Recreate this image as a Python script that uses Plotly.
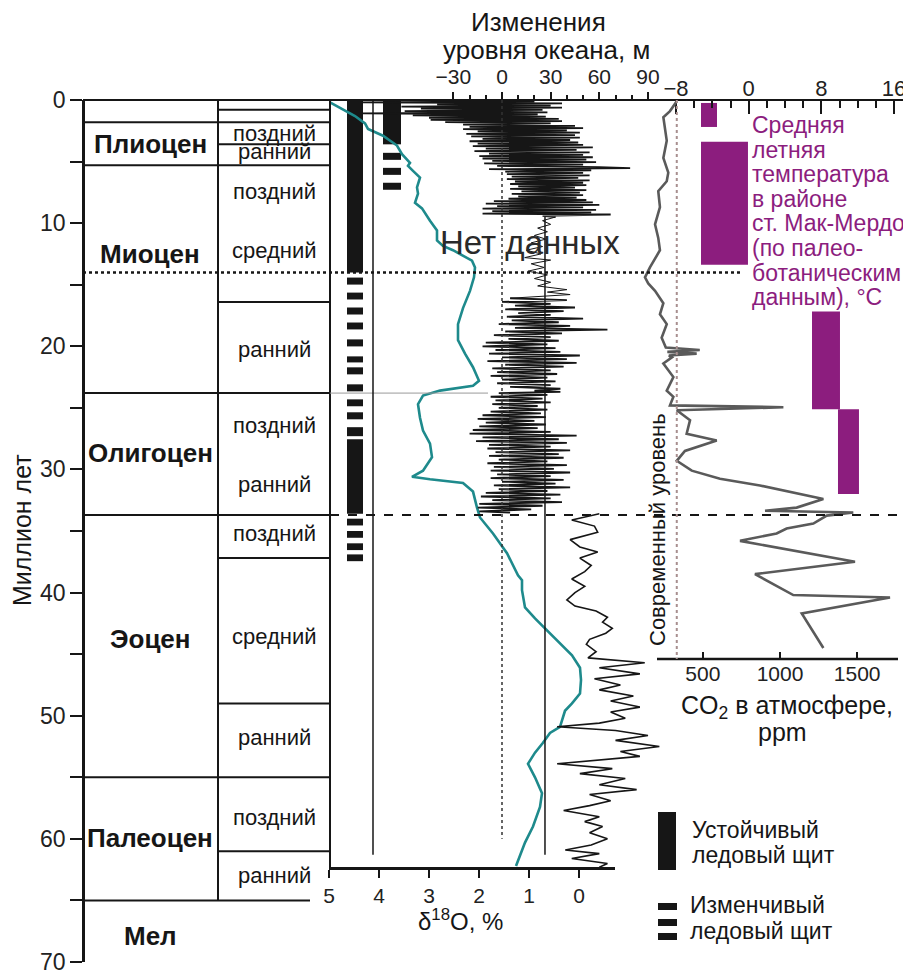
import plotly.graph_objects as go

# The page body has an 8 px margin; the figure is sized to fill the rest of the window.
OFF = 8
W, H = 911 - OFF, 973 - OFF
FONT = "Liberation Sans, Arial, Helvetica, sans-serif"
INK = "#161616"
PURPLE = "#8c1d7e"
TEAL = "#1e8a8c"
GRAY = "#5a5a5a"

# ------------------------------------------------------------------ data
# stratigraphy (Ma)
epoch_names = ["Плиоцен", "Миоцен", "Олигоцен", "Эоцен", "Палеоцен", "Мел"]
epoch_label_age = [3.55, 12.5, 28.7, 43.8, 59.9, 67.9]
epoch_bounds = [1.8, 5.3, 23.8, 33.7, 55.0]
cretaceous_bound = 65.0
sub_names = ["поздний", "ранний", "поздний", "средний", "ранний", "поздний",
             "ранний", "поздний", "средний", "ранний", "поздний", "ранний"]
sub_label_age = [2.7, 4.2, 7.4, 12.2, 20.3, 26.4, 31.2, 35.2, 43.6, 51.8, 58.3, 63.0]
sub_bounds = [0.8, 3.6, 16.4, 37.2, 49.0, 61.0]
mid_miocene_line = 14.0
age_ticks = list(range(0, 71, 10))
age_minor = list(range(5, 70, 10))

# ice sheets (Ma)
stable1_start = [0.0, 27.55]
stable1_end = [14.0, 33.6]
var1_start = [14.42, 15.64, 16.85, 18.07, 19.44, 20.82, 21.71, 23.09, 24.31, 25.36, 26.57,
              34.0, 35.0, 36.0, 36.9]
var1_end = [14.99, 16.20, 17.42, 18.63, 20.01, 21.31, 22.28, 23.66, 24.87, 25.93, 27.30,
            34.55, 35.55, 36.55, 37.45]
stable2_start = [0.0]
stable2_end = [3.6]
var2_start = [4.29, 5.51, 6.72]
var2_end = [4.86, 6.08, 7.29]

# delta 18O (per mil)
d18o_age = [0.2, 0.7, 1.3, 1.9, 2.35, 2.5, 2.9, 3.7, 4.4, 5.1,
            5.35, 5.75, 6.3, 7.1, 7.6, 8.35, 8.8, 9.8, 10.6, 11.4,
            11.85, 12.2, 12.65, 13.05, 13.6, 14.4, 15.5, 16.9, 18.2, 19.5,
            20.6, 21.7, 22.8, 23.2, 23.6, 24.0, 24.7, 25.8, 26.85, 27.9,
            29.0, 30.1, 30.6, 30.8, 31.1, 31.8, 33.1, 33.9, 35.2, 36.8,
            38.6, 39.0, 39.8, 41.2, 42.1, 42.9, 44.1, 45.1, 46.1, 47.1,
            48.2, 49.0, 49.6, 50.4, 50.9, 51.4, 52.2, 53.0, 53.9, 55.0,
            56.3, 57.4, 59.0, 60.3, 61.9, 62.2]
d18o_val = [4.98, 4.74, 4.48, 4.28, 4.22, 4.14, 3.92, 3.64, 3.54, 3.38,
            3.42, 3.32, 3.18, 3.24, 3.22, 3.28, 3.14, 2.98, 2.84, 2.84,
            2.72, 2.52, 2.32, 2.14, 2.08, 2.10, 2.18, 2.32, 2.42, 2.42,
            2.28, 2.12, 2.00, 2.12, 2.78, 3.12, 3.22, 3.18, 3.12, 2.98,
            2.94, 3.12, 3.34, 2.98, 2.32, 2.12, 2.04, 1.98, 1.72, 1.44,
            1.22, 1.14, 1.14, 1.08, 0.88, 0.68, 0.38, 0.14, -0.02, -0.04,
            -0.02, 0.14, 0.28, 0.34, 0.38, 0.58, 0.72, 0.88, 1.02, 0.88,
            0.74, 0.78, 0.92, 1.08, 1.24, 1.26]
d18o_ticks = [5, 4, 3, 2, 1, 0]
d18o_refs = [4.12, 0.68]

# sea level (m)
sea_a_age = [0.10, 0.20, 0.28, 0.36, 0.45, 0.53, 0.62, 0.70, 0.80, 0.90,
             1.00, 1.08, 1.17, 1.25, 1.35, 1.44, 1.53, 1.62, 1.72, 1.80,
             1.90, 2.00, 2.10, 2.18, 2.28, 2.37, 2.47, 2.55, 2.65, 2.75,
             2.85, 2.95, 3.05, 3.15, 3.25, 3.35, 3.45, 3.55, 3.65, 3.75,
             3.85, 3.95, 4.05, 4.15, 4.25, 4.35, 4.45, 4.55, 4.65, 4.75,
             4.85, 4.95, 5.05, 5.15, 5.25, 5.35, 5.45, 5.54, 5.62, 5.72,
             5.82, 5.92, 6.02, 6.12, 6.22, 6.32, 6.42, 6.52, 6.62, 6.72,
             6.82, 6.92, 7.02, 7.12, 7.22, 7.32, 7.42, 7.52, 7.62, 7.72,
             7.82, 7.92, 8.02, 8.12, 8.22, 8.32, 8.42, 8.52, 8.62, 8.72,
             8.82, 8.92, 9.02, 9.12, 9.22, 9.30, 9.40, 9.50]
sea_a_m = [20, -86, 37, -40, 30, -62, 37, -50, 25, -60,
           28, -86, 22, -55, 27, -45, 35, -44, 37, -35,
           30, -24, 45, -20, 50, -24, 40, -15, 48, -22,
           45, -19, 48, -12, 42, -20, 47, -15, 50, -18,
           56, -10, 46, -17, 54, -8, 50, -14, 56, -12,
           52, -6, 58, -11, 50, -3, 60, 79, -8, 55,
           2, 50, 3, 54, 6, 47, 3, 54, 8, 50,
           5, 52, 10, 45, 5, 52, 12, 48, 6, 50,
           10, 46, 4, 52, -5, 56, -10, 60, -3, 50,
           -12, 58, -6, 55, -12, 67, 25, 33]
sea_b_age = [9.50, 9.8, 10.1, 10.4, 10.7, 11.0, 11.3, 11.6, 11.9, 12.2, 12.5, 12.8,
             13.0, 13.3, 13.6, 13.9, 14.2, 14.5, 14.8, 15.1, 15.4, 15.6, 15.8, 16.1]
sea_b_m = [33, 25, 30, 22, 28, 20, 27, 18, 25, 15, 24, 14,
           30, 18, 26, 16, 28, 20, 30, 22, 40, 28, 42, 5]
sea_c_age = [16.10, 16.25, 16.40, 16.55, 16.70, 16.85, 17.00, 17.15, 17.30, 17.45,
             17.60, 17.75, 17.90, 18.05, 18.20, 18.35, 18.50, 18.65, 18.80, 18.95,
             19.10, 19.25, 19.40, 19.55, 19.70, 19.85, 20.00, 20.15, 20.30, 20.45,
             20.60, 20.75, 20.90, 21.05, 21.20, 21.35, 21.50, 21.65, 21.80, 21.95,
             22.10, 22.25, 22.40, 22.55, 22.70, 22.85, 23.00, 23.15, 23.30, 23.45,
             23.60, 23.70, 23.80, 23.95, 24.10, 24.25, 24.40, 24.55, 24.70, 24.85,
             25.00, 25.15, 25.30, 25.45, 25.60, 25.75, 25.90, 26.05, 26.20, 26.35,
             26.50, 26.65, 26.80, 26.95, 27.10, 27.25, 27.40, 27.55, 27.70, 27.85,
             28.00, 28.15, 28.30, 28.45, 28.60, 28.75, 28.90, 29.05, 29.20, 29.35,
             29.50, 29.65, 29.80, 29.95, 30.10, 30.25, 30.40, 30.55, 30.70, 30.85,
             31.00, 31.15, 31.30, 31.45, 31.60, 31.75, 31.90, 32.05, 32.20, 32.35,
             32.50, 32.65, 32.80, 32.95, 33.10, 33.25, 33.40, 33.50]
sea_c_m = [5, 40, 0, 30, 8, 45, 2, 38, 10, 30,
           3, 50, 6, 35, -2, 42, 8, 65, 2, 37,
           -5, 30, 4, 35, -10, 28, -12, 33, -4, 36,
           -8, 48, 0, 40, -9, 46, 2, 38, -6, 30,
           -3, 34, -7, 28, 0, 33, -3, 30, 5, 36,
           20, 36, -2, 28, -7, 25, -4, 30, -6, 22,
           -2, 28, -7, 24, -12, 27, -15, 20, -10, 27,
           -14, 22, -18, 30, -20, 46, -12, 35, -16, 40,
           -8, 30, -9, 42, -4, 35, -8, 38, -2, 28,
           -9, 40, -5, 32, -7, 42, -3, 30, -7, 38,
           0, 33, -5, 42, -2, 28, -10, 36, -13, 30,
           -6, 37, -14, 25, -15, 18, -14, 5]
sea_d_age = [33.60, 34.10, 34.60, 35.10, 35.70, 36.30, 36.70, 37.20, 37.80, 38.30,
             38.90, 39.50, 40.00, 40.60, 41.10, 41.50, 42.00, 42.40, 42.90, 43.30,
             43.80, 44.20, 44.80, 45.30, 45.70, 46.10, 46.60, 47.00, 47.50, 47.90,
             48.40, 48.80, 49.30, 49.70, 50.20, 50.60, 50.90, 51.20, 51.60, 52.00,
             52.50, 52.90, 53.30, 53.60, 53.90, 54.30, 54.70, 55.10, 55.60, 56.00,
             56.40, 56.90, 57.30, 57.70, 58.20, 58.60, 59.00, 59.50, 60.00, 60.50,
             60.90, 61.20, 61.60, 62.00, 62.30]
sea_d_m = [60, 43, 57, 59, 42, 48, 59, 48, 55, 51,
           43, 51, 45, 40, 45, 58, 65, 62, 68, 64,
           54, 52, 58, 53, 88, 60, 85, 57, 73, 60,
           81, 67, 85, 67, 76, 60, 34, 70, 90, 70,
           97, 73, 85, 60, 34, 68, 48, 76, 60, 83,
           54, 67, 54, 38, 60, 51, 62, 54, 65, 55,
           39, 60, 43, 65, 60]
sea_ticks = [-30, 0, 30, 60, 90]
sea_minor = [-20, -10, 10, 20, 40, 50, 70, 80]
sea_refs_solid = [26.5]
sea_zero = 0

# McMurdo summer temperature (deg C)
temp_age_from = [0.24, 3.40, 17.18, 25.12]
temp_age_to = [2.19, 13.37, 25.12, 32.0]
temp_low = [-5.25, -5.25, 6.97, 9.83]
temp_high = [-3.49, -0.08, 10.05, 12.14]
temp_ticks = [-8, 0, 8, 16]
temp_minor = [-6, -4, -2, 2, 4, 6, 10, 12, 14]

# atmospheric CO2 (ppm)
co2_age = [0.1, 0.9, 1.4, 2.2, 3.3, 4.7, 5.9, 6.6, 7.4, 8.7,
           10.1, 11.2, 12.2, 13.6, 14.4, 14.9, 15.5, 16.5, 17.4, 18.2,
           19.3, 20.1, 20.3, 20.45, 20.6, 20.75, 20.9, 21.4, 22.5, 23.6,
           24.1, 24.8, 24.95, 25.2, 26.0, 27.1, 27.65, 28.5, 29.3, 30.1,
           30.75, 31.3, 32.4, 33.1, 33.35, 33.5, 33.75, 34.4, 34.8, 35.2,
           35.8, 37.5, 38.5, 40.2, 40.4, 41.7, 44.5]
co2_ppm = [331, 287, 244, 255, 266, 244, 276, 266, 211, 222,
           190, 211, 222, 157, 125, 146, 190, 244, 222, 266,
           233, 260, 480, 270, 460, 280, 300, 244, 309, 266,
           309, 287, 1022, 331, 417, 395, 590, 384, 331, 428,
           611, 870, 1281, 1108, 903, 1475, 1303, 1216, 1043, 978,
           741, 1486, 838, 1086, 1713, 1141, 1281]
co2_ticks = [500, 1000, 1500]
co2_present = 331

# ------------------------------------------------------------------ geometry (window pixels)
Y0_PX, Y70_PX = 100, 962
AXIS_X, COL_DIV_X, COL_RIGHT_X = 83, 218, 330
COL1_X, COL1_W = 355, 16
COL2_X, COL2_W = 392, 18
D18_LEFT_PX, D18_RIGHT_PX, D18_PX_PER = 329, 615, 50.0
D18_AXIS_Y = 868
SL_ZERO_PX, SL_PX_PER_M = 502, 1.622
SL_DOM = (330, 670)
T_ZERO_PX, T_PX_PER = 748.7, 9.083
C_1000_PX, C_PX_PER = 780, 0.1543
RIGHT_DOM = (640, 905)
TOP_Y = 100
CO2_AXIS_Y = 659


def px(x):
    return (x - OFF) / W


def py(y):
    return 1 - (y - OFF) / H


def age_px(t):
    return Y0_PX + (Y70_PX - Y0_PX) * t / 70.0


fig = go.Figure()

# ice sheets -----------------------------------------------------------
def ice_bars(xc, w, starts, ends):
    fig.add_trace(go.Bar(x=[xc] * len(starts), y=[e - s for s, e in zip(starts, ends)],
                         base=starts, width=[w] * len(starts), orientation="v",
                         marker=dict(color=INK, line=dict(width=0)),
                         xaxis="x", yaxis="y", showlegend=False, hoverinfo="skip"))


ice_bars(COL1_X, COL1_W, stable1_start, stable1_end)
ice_bars(COL1_X, COL1_W, var1_start, var1_end)
ice_bars(COL2_X, COL2_W, stable2_start, stable2_end)
ice_bars(COL2_X, COL2_W, var2_start, var2_end)

# delta18O -------------------------------------------------------------
fig.add_trace(go.Scatter(x=d18o_val, y=d18o_age, mode="lines", xaxis="x2", yaxis="y",
                         line=dict(color=TEAL, width=2.6), showlegend=False))

# sea level ------------------------------------------------------------
for a, m, wdt in [(sea_a_age, sea_a_m, 1.8), (sea_b_age, sea_b_m, 1.0),
                  (sea_c_age, sea_c_m, 1.8), (sea_d_age, sea_d_m, 1.6)]:
    fig.add_trace(go.Scatter(x=m, y=a, mode="lines", xaxis="x3", yaxis="y",
                             line=dict(color=INK, width=wdt), showlegend=False))

# temperature bars -------------------------------------------------------
fig.add_trace(go.Bar(orientation="h",
                     y=[(a + b) / 2 for a, b in zip(temp_age_from, temp_age_to)],
                     x=[h - l for l, h in zip(temp_low, temp_high)],
                     base=temp_low,
                     width=[b - a for a, b in zip(temp_age_from, temp_age_to)],
                     marker=dict(color=PURPLE, line=dict(width=0)),
                     xaxis="x4", yaxis="y", showlegend=False))

# CO2 ------------------------------------------------------------------
fig.add_trace(go.Scatter(x=co2_ppm, y=co2_age, mode="lines", xaxis="x5", yaxis="y",
                         line=dict(color=GRAY, width=2.6), showlegend=False))

# ------------------------------------------------------------------ axes
common = dict(showgrid=False, zeroline=False, tickcolor=INK, linecolor=INK, automargin=False)
sl_lo = (SL_DOM[0] - SL_ZERO_PX) / SL_PX_PER_M
sl_hi = (SL_DOM[1] - SL_ZERO_PX) / SL_PX_PER_M
t_lo = (RIGHT_DOM[0] - T_ZERO_PX) / T_PX_PER
t_hi = (RIGHT_DOM[1] - T_ZERO_PX) / T_PX_PER
c_lo = 1000 + (RIGHT_DOM[0] - C_1000_PX) / C_PX_PER
c_hi = 1000 + (RIGHT_DOM[1] - C_1000_PX) / C_PX_PER

fig.update_layout(
    template="none",
    width=W, height=H, margin=dict(l=0, r=0, t=0, b=0, pad=0, autoexpand=False),
    paper_bgcolor="white", plot_bgcolor="rgba(0,0,0,0)",
    font=dict(family=FONT, color=INK),
    barmode="overlay", showlegend=False,
    yaxis=dict(domain=[py(Y70_PX), py(Y0_PX)], range=[70, 0], anchor="free",
               position=px(AXIS_X), showline=True, linewidth=2.5,
               ticks="outside", ticklen=12, tickwidth=2,
               tickvals=age_ticks, ticklabeloverflow="allow",
               minor=dict(ticks="outside", ticklen=12, tickwidth=2, tickcolor=INK,
                          tickvals=age_minor),
               tickfont=dict(size=23, color="#222"), **common),
    xaxis=dict(domain=[0, 1], range=[OFF, OFF + W], visible=False, anchor="y", automargin=False),
    xaxis2=dict(domain=[px(D18_LEFT_PX), px(D18_RIGHT_PX)],
                range=[5, 5 - (D18_RIGHT_PX - D18_LEFT_PX) / D18_PX_PER],
                anchor="free", position=py(D18_AXIS_Y), side="bottom",
                showline=True, linewidth=2.5, ticks="outside", ticklen=8, tickwidth=2,
                tickvals=d18o_ticks, tickfont=dict(size=21, color="#222"), **common),
    xaxis3=dict(domain=[px(SL_DOM[0]), px(SL_DOM[1])], range=[sl_lo, sl_hi],
                anchor="free", position=py(TOP_Y), side="top", showline=False,
                ticks="outside", ticklen=8, tickwidth=2, tickvals=sea_ticks,
                minor=dict(ticks="outside", ticklen=5, tickwidth=1.5, tickcolor=INK,
                           tickvals=sea_minor),
                tickfont=dict(size=21, color="#222"), **common),
    xaxis4=dict(domain=[px(RIGHT_DOM[0]), px(RIGHT_DOM[1])], range=[t_lo, t_hi],
                anchor="free", position=py(TOP_Y), side="top", showline=False,
                ticks="inside", ticklen=13, tickwidth=2, tickvals=temp_ticks,
                minor=dict(ticks="inside", ticklen=7, tickwidth=2, tickcolor=INK,
                           tickvals=temp_minor),
                tickfont=dict(size=22, color="#222"), **common),
    xaxis5=dict(domain=[px(RIGHT_DOM[0]), px(RIGHT_DOM[1])], range=[c_lo, c_hi],
                anchor="free", position=py(CO2_AXIS_Y), side="bottom", showline=False,
                ticks="inside", ticklen=7, tickwidth=2, tickvals=co2_ticks,
                tickfont=dict(size=21, color="#222"), **common),
)

# ------------------------------------------------------------------ shapes
shapes = []


def hline_age(t, x0, x1, color=INK, width=2, dash="solid"):
    shapes.append(dict(type="line", xref="paper", yref="y", x0=px(x0), x1=px(x1), y0=t, y1=t,
                       line=dict(color=color, width=width, dash=dash)))


def line_px(x0, y0, x1, y1, color=INK, width=2, dash="solid"):
    shapes.append(dict(type="line", xref="paper", yref="paper", x0=px(x0), x1=px(x1),
                       y0=py(y0), y1=py(y1), line=dict(color=color, width=width, dash=dash)))


# top frame line
line_px(AXIS_X, TOP_Y, RIGHT_DOM[1], TOP_Y, width=2)
# column verticals
shapes.append(dict(type="line", xref="paper", yref="y", x0=px(COL_DIV_X), x1=px(COL_DIV_X),
                   y0=0, y1=cretaceous_bound, line=dict(color=INK, width=2)))
line_px(COL_RIGHT_X, TOP_Y, COL_RIGHT_X, D18_AXIS_Y, width=2)
# epoch boundaries
for b in epoch_bounds:
    hline_age(b, AXIS_X, COL_RIGHT_X)
hline_age(cretaceous_bound, AXIS_X, 310)
for b in sub_bounds:
    hline_age(b, COL_DIV_X, COL_RIGHT_X)
hline_age(epoch_bounds[2], COL_RIGHT_X, 488, color="#9a9a9a", width=1)
hline_age(epoch_bounds[3], COL_RIGHT_X, RIGHT_DOM[1], width=2, dash="dash")
hline_age(mid_miocene_line, AXIS_X, 740, width=2.5, dash="dot")
# reference verticals
shapes.append(dict(type="line", xref="x2", yref="y", x0=d18o_refs[0], x1=d18o_refs[0],
                   y0=-0.4, y1=61.3, line=dict(color=INK, width=1.5)))
shapes.append(dict(type="line", xref="x3", yref="y", x0=sea_refs_solid[0], x1=sea_refs_solid[0],
                   y0=9.5, y1=61.3, line=dict(color=INK, width=1.5)))
shapes.append(dict(type="line", xref="x3", yref="y", x0=sea_zero, x1=sea_zero,
                   y0=0, y1=60.0, line=dict(color="#333", width=1.5, dash="dot")))
# CO2 axis line and present-day level
line_px(657, CO2_AXIS_Y, 898, CO2_AXIS_Y, width=2.5)
shapes.append(dict(type="line", xref="x5", yref="paper", x0=co2_present, x1=co2_present,
                   y0=py(TOP_Y), y1=py(CO2_AXIS_Y), line=dict(color="#a88f8f", width=2, dash="dot")))
# legend symbols
shapes.append(dict(type="rect", xref="paper", yref="paper", x0=px(658), x1=px(676),
                   y0=py(870), y1=py(812), fillcolor=INK, line=dict(width=0)))
for y0, y1 in [(903, 910), (919, 926), (933, 940)]:
    shapes.append(dict(type="rect", xref="paper", yref="paper", x0=px(658), x1=px(677),
                       y0=py(y1), y1=py(y0), fillcolor=INK, line=dict(width=0)))

fig.update_layout(shapes=shapes)

# ------------------------------------------------------------------ text
ann = []


def text_px(x, y, s, size, xanchor="center", color=INK, bold=False, angle=0):
    if bold:
        s = "<b>" + s + "</b>"
    ann.append(dict(x=px(x), y=py(y), xref="paper", yref="paper", text=s, showarrow=False,
                    xanchor=xanchor, yanchor="middle", textangle=angle,
                    font=dict(size=size, color=color, family=FONT)))


for name, t in zip(epoch_names, epoch_label_age):
    text_px(150, age_px(t), name, 26, bold=True)
for name, t in zip(sub_names, sub_label_age):
    text_px(274, age_px(t), name, 22)

text_px(22, 530, "Миллион лет", 25, angle=-90)
text_px(538, 22, "Изменения", 26)
text_px(546, 50, "уровня океана, м", 26)
text_px(530, 243, "Нет данных", 33, color="#2a2a2a")
text_px(460, 920, "δ<sup>18</sup>O, %", 24)

purple_lines = ["Средняя", "летняя", "температура", "в районе", "ст. Мак-Мердо",
                "(по палео-", "ботаническим", "данным), °C"]
for i, s in enumerate(purple_lines):
    text_px(750, 125 + i * 24.6, s, 23, xanchor="left", color=PURPLE)

text_px(787, 707, "CO<sub>2</sub> в атмосфере,", 25)
text_px(782, 732, "ppm", 25)
text_px(657, 530, "Современный уровень", 22, angle=-90)

text_px(690, 830, "Устойчивый", 23, xanchor="left")
text_px(690, 855, "ледовый щит", 23, xanchor="left")
text_px(688, 905, "Изменчивый", 23, xanchor="left")
text_px(688, 931, "ледовый щит", 23, xanchor="left")

fig.update_layout(annotations=ann)

fig.write_html("out.html")
